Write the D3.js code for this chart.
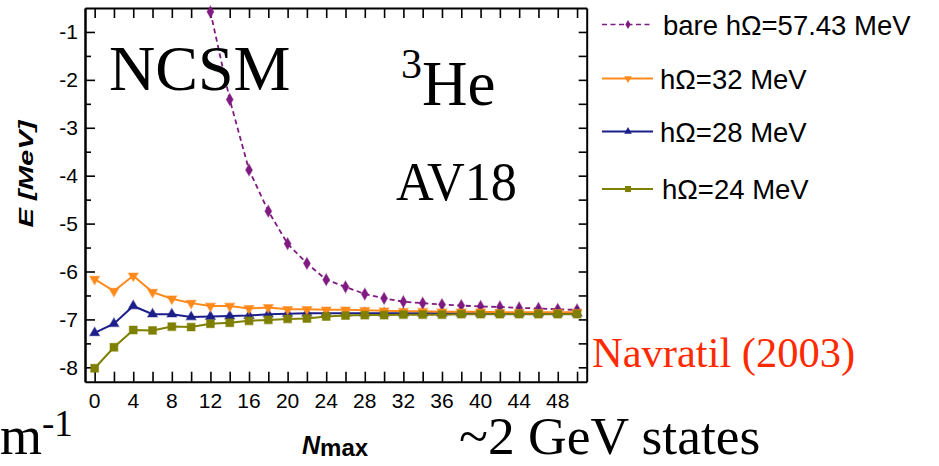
<!DOCTYPE html>
<html>
<head>
<meta charset="utf-8">
<script src="https://cdn.jsdelivr.net/npm/d3@7"></script>
<style>
  html, body { margin: 0; padding: 0; background: #fff; }
  svg { display: block; }
</style>
</head>
<body>
<svg id="chart" width="939" height="466"></svg>
<script>
// Oscillator-basis truncation N_max
const nmaxValues = [0, 2, 4, 6, 8, 10, 12, 14, 16, 18, 20, 22, 24, 26, 28, 30, 32, 34, 36, 38, 40, 42, 44, 46, 48, 50];

// Bare interaction, hΩ = 57.43 MeV (values from N_max = 12 upward; lower N_max lie above the frame)
const bareN = [12, 14, 16, 18, 20, 22, 24, 26, 28, 30, 32, 34, 36, 38, 40, 42, 44, 46, 48, 50];
const bareE = [-0.58, -2.41, -3.88, -4.74, -5.42, -5.83, -6.17, -6.32, -6.47, -6.56, -6.63, -6.66, -6.69, -6.71, -6.73, -6.74, -6.76, -6.77, -6.79, -6.80];

// Effective interaction at three oscillator frequencies
const e32 = [-6.16, -6.41, -6.09, -6.43, -6.57, -6.66, -6.72, -6.72, -6.77, -6.75, -6.79, -6.79, -6.80, -6.80, -6.81, -6.82, -6.83, -6.83, -6.84, -6.84, -6.84, -6.85, -6.85, -6.85, -6.85, -6.85];
const e28 = [-7.28, -7.09, -6.72, -6.89, -6.89, -6.95, -6.94, -6.93, -6.92, -6.89, -6.88, -6.87, -6.87, -6.87, -6.87, -6.87, -6.87, -6.87, -6.87, -6.87, -6.87, -6.87, -6.87, -6.87, -6.87, -6.87];
const e24 = [-8.02, -7.58, -7.22, -7.23, -7.15, -7.16, -7.09, -7.07, -7.03, -7.01, -6.99, -6.98, -6.94, -6.92, -6.91, -6.91, -6.90, -6.90, -6.90, -6.89, -6.89, -6.89, -6.89, -6.89, -6.89, -6.89];

const seriesLabels = ["bare hΩ=57.43 MeV", "hΩ=32 MeV", "hΩ=28 MeV", "hΩ=24 MeV"];
const xTickLabels = [0, 4, 8, 12, 16, 20, 24, 28, 32, 36, 40, 44, 48];
const yTickLabels = [-1, -2, -3, -4, -5, -6, -7, -8];

const svg = d3.select("#chart");
const sans = "'Liberation Sans', Arial, sans-serif";
const serif = "'Liberation Serif', 'Times New Roman', serif";

const plot = { left: 85, right: 586.7, top: 8, bottom: 381.7 };
const x = d3.scaleLinear().domain([-1, 51]).range([plot.left, plot.right]);
const y = d3.scaleLinear().domain([-8.3, -0.5]).range([plot.bottom, plot.top]);

const series = [
  { key: "bare", n: bareN, e: bareE, color: "#7f1a80", dash: "5,3.5", symbol: d3.symbolDiamond, size: 40, rotate: 0, width: 1.8 },
  { key: "28", n: nmaxValues, e: e28, color: "#1c1f8a", dash: null, symbol: d3.symbolTriangle, size: 42, rotate: 0, width: 2 },
  { key: "32", n: nmaxValues, e: e32, color: "#ff8a1c", dash: null, symbol: d3.symbolTriangle, size: 42, rotate: 180, width: 2 },
  { key: "24", n: nmaxValues, e: e24, color: "#7f7f00", dash: null, symbol: d3.symbolSquare, size: 62, rotate: 0, width: 2 }
];

// ---- axes (frame with inward ticks) ----
const axisG = svg.append("g").attr("class", "axes");
const ticksX = d3.range(0, 51, 2);
const ticksYMajor = yTickLabels;
const ticksYMinor = [-1.5, -2.5, -3.5, -4.5, -5.5, -6.5, -7.5];

const bottomAxis = d3.axisBottom(x).tickValues(ticksX).tickSizeInner(-10).tickSizeOuter(0).tickFormat("");
const topAxis = d3.axisTop(x).tickValues(ticksX).tickSizeInner(-10).tickSizeOuter(0).tickFormat("");
const leftMajor = d3.axisLeft(y).tickValues(ticksYMajor).tickSizeInner(-10).tickSizeOuter(0).tickFormat("");
const leftMinor = d3.axisLeft(y).tickValues(ticksYMinor).tickSizeInner(-6).tickSizeOuter(0).tickFormat("");
const rightAxis = d3.axisRight(y).tickValues(ticksYMajor.concat(ticksYMinor)).tickSizeInner(-8).tickSizeOuter(0).tickFormat("");

function styleAxis(g) {
  g.selectAll("path").attr("stroke", "#000").attr("stroke-width", 2);
  g.selectAll("line").attr("stroke", "#000").attr("stroke-width", 1.6);
}
axisG.append("g").attr("transform", `translate(0,${plot.bottom})`).call(bottomAxis).call(styleAxis);
axisG.append("g").attr("transform", `translate(0,${plot.top})`).call(topAxis).call(styleAxis);
axisG.append("g").attr("transform", `translate(${plot.left},0)`).call(leftMajor).call(styleAxis);
axisG.append("g").attr("transform", `translate(${plot.left},0)`).call(leftMinor).call(styleAxis);
axisG.append("g").attr("transform", `translate(${plot.right},0)`).call(rightAxis).call(styleAxis);

// tick labels
axisG.append("g").selectAll("text").data(xTickLabels).join("text")
  .attr("x", d => x(d)).attr("y", 408)
  .attr("text-anchor", "middle")
  .attr("font-family", sans).attr("font-size", 21)
  .text(d => d);
axisG.append("g").selectAll("text").data(yTickLabels).join("text")
  .attr("x", 78).attr("y", d => y(d) + 7.5)
  .attr("text-anchor", "end")
  .attr("font-family", sans).attr("font-size", 21)
  .text(d => d);

// axis titles
svg.append("text")
  .attr("transform", "translate(33,174) rotate(-90)")
  .attr("text-anchor", "middle")
  .attr("font-family", sans).attr("font-size", 21)
  .attr("font-weight", "bold").attr("font-style", "italic")
  .attr("textLength", 107).attr("lengthAdjust", "spacingAndGlyphs")
  .text("E [MeV]");

const nTitle = svg.append("text")
  .attr("x", 302).attr("y", 454)
  .attr("font-family", sans).attr("font-weight", "bold");
nTitle.append("tspan").attr("font-size", 25).attr("font-style", "italic").text("N");
nTitle.append("tspan").attr("font-size", 24).attr("dy", 2).text("max");

// ---- series ----
const clipId = "plot-clip";
svg.append("clipPath").attr("id", clipId).append("rect")
  .attr("x", plot.left).attr("y", plot.top - 6)
  .attr("width", plot.right - plot.left).attr("height", plot.bottom - plot.top + 6);

const dataG = svg.append("g").attr("clip-path", `url(#${clipId})`);
series.forEach(s => {
  const pts = s.n.map((n, i) => [n, s.e[i]]);
  dataG.append("path")
    .datum(pts)
    .attr("fill", "none")
    .attr("stroke", s.color)
    .attr("stroke-width", s.width)
    .attr("stroke-dasharray", s.dash)
    .attr("d", d3.line().x(d => x(d[0])).y(d => y(d[1])));
  dataG.append("g").selectAll("path").data(pts).join("path")
    .attr("transform", d => `translate(${x(d[0])},${y(d[1])}) rotate(${s.rotate})`)
    .attr("d", d3.symbol().type(s.symbol).size(s.size))
    .attr("fill", s.color)
    .attr("stroke", s.color).attr("stroke-opacity", 0.45).attr("stroke-width", 1.2);
});

// ---- legend ----
const legendOrder = [series[0], series[2], series[1], series[3]];
const legendRows = [24.5, 78.5, 131.5, 189];
const legendTextX = [663, 660, 660, 662];
const legend = svg.append("g");
legendOrder.forEach((s, i) => {
  const ly = legendRows[i];
  legend.append("line")
    .attr("x1", 602).attr("x2", 653).attr("y1", ly).attr("y2", ly)
    .attr("stroke", s.color).attr("stroke-width", s.key === "bare" ? 1.6 : 2)
    .attr("stroke-dasharray", s.dash);
  legend.append("path")
    .attr("transform", `translate(628,${ly}) rotate(${s.rotate})`)
    .attr("d", d3.symbol().type(s.symbol).size(s.size * 0.6))
    .attr("fill", s.color);
  legend.append("text")
    .attr("x", legendTextX[i]).attr("y", ly + 10)
    .attr("font-family", sans).attr("font-size", 27.5)
    .attr("fill", "#000")
    .text(seriesLabels[i]);
});

// ---- annotations ----
svg.append("text")
  .attr("x", 109).attr("y", 90)
  .attr("font-family", serif).attr("font-size", 64)
  .text("NCSM");

const he = svg.append("text")
  .attr("x", 401).attr("y", 105)
  .attr("font-family", serif).attr("font-size", 63);
he.append("tspan").attr("font-size", 42).attr("dy", -27).text("3");
he.append("tspan").attr("dy", 27).text("He");

svg.append("text")
  .attr("x", 396).attr("y", 200)
  .attr("font-family", serif).attr("font-size", 55)
  .attr("textLength", 121).attr("lengthAdjust", "spacingAndGlyphs")
  .text("AV18");

svg.append("text")
  .attr("x", 592).attr("y", 367)
  .attr("font-family", serif).attr("font-size", 42.5)
  .attr("fill", "#ff2a00")
  .text("Navratil (2003)");

const units = svg.append("text")
  .attr("x", 0).attr("y", 454)
  .attr("font-family", serif).attr("font-size", 54);
units.append("tspan").text("m");
units.append("tspan").attr("font-size", 37).attr("dy", -18).text("-1");

svg.append("text")
  .attr("x", 459).attr("y", 454)
  .attr("font-family", serif).attr("font-size", 53.5)
  .text("~2 GeV states");
</script>
</body>
</html>
